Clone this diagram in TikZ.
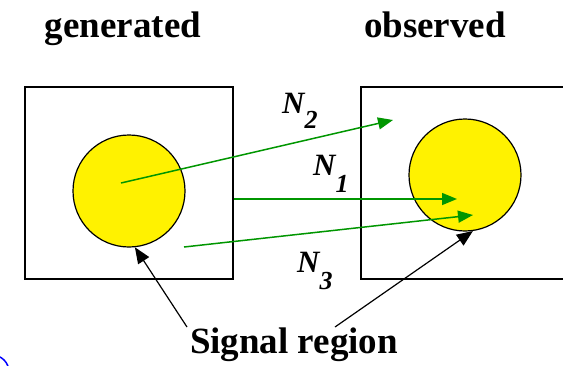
\documentclass[tikz,border=0pt]{standalone}
\usepackage{fontspec}
\setmainfont{Liberation Serif}[BoldFont={Liberation Serif Bold},BoldItalicFont={Liberation Serif Bold Italic},ItalicFont={Liberation Serif Italic}]
\usetikzlibrary{positioning,arrows.meta}
\definecolor{hitgreen}{RGB}{0,150,0}

\begin{document}
\begin{tikzpicture}[x=1pt,y=-1pt,
  frame/.style={draw,line width=1.5pt,minimum width=208pt,minimum height=192pt,inner sep=0pt},
  sigreg/.style={circle,draw,fill=yellow,line width=1.2pt,minimum size=112pt,inner sep=0pt},
  hit/.style={hitgreen,line width=1.5pt,-{Triangle[length=15pt,width=12pt]}},
  pointer/.style={line width=1.2pt,-{Triangle[length=16pt,width=13pt]}},
  lbl/.style={font=\rmfamily\fontsize{37}{40}\selectfont\bfseries,inner sep=0pt,anchor=base},
  nlbl/.style={font=\rmfamily\fontsize{31}{34}\selectfont\bfseries\itshape,inner sep=0pt,anchor=base west}]
  \clip (0,0) rectangle (563,365);
  % boxes and signal regions
  \node[frame] (genbox) at (129,183) {};
  \node[frame] (obsbox) at (465,183) {};
  \node[sigreg] (gencirc) at (129,191) {};
  \node[sigreg] (obscirc) at (465,175) {};
  % titles
  \node[lbl] (gen) at (123,37) {generated};
  \node[lbl] (obs) at (435,37) {observed};
  \node[lbl] (sig) at (294,353) {Signal region};
  % event labels
  \node[nlbl] (n2) at (282,113) {N\raisebox{-15pt}{\fontsize{26}{28}\selectfont 2}};
  \node[nlbl] (n1) at (313,175) {N\raisebox{-17pt}{\fontsize{26}{28}\selectfont 1}};
  \node[nlbl] (n3) at (297,272) {N\raisebox{-17pt}{\fontsize{26}{28}\selectfont 3}};
  % migration arrows
  \coordinate (s2) at (121,183); \coordinate (e2) at (393,120);
  \coordinate (s1) at (genbox.east |- 0,199); \coordinate (e1) at (457,199);
  \coordinate (s3) at (184,247); \coordinate (e3) at (473,215);
  \draw[hit] (s2) -- (e2);
  \draw[hit] (s1) -- (e1);
  \draw[hit] (s3) -- (e3);
  % pointers to the signal regions
  \coordinate (pl) at (187,327); \coordinate (pr) at (335,327);
  \draw[pointer] (pl) -- (gencirc.-84);
  \draw[pointer] (pr) -- (obscirc.-82);
  \draw[blue,line width=1.5pt] (-8,372) circle[radius=17pt];
\end{tikzpicture}
\end{document}
